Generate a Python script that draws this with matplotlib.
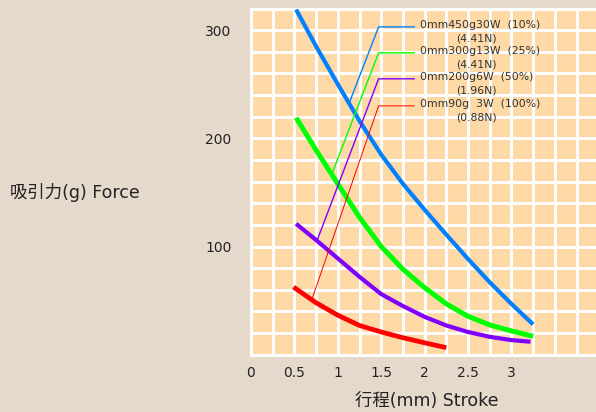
import matplotlib
matplotlib.use("Agg")
import matplotlib.pyplot as plt
import numpy as np

plt.rcParams['font.family'] = ['DejaVu Sans', 'Noto Sans CJK JP']

# ---- data ----
blue_x = [0.52, 0.75, 1.0, 1.25, 1.5, 1.75, 2.0, 2.25, 2.5, 2.75, 3.0, 3.25]
blue_y = [319, 285, 250, 216, 185, 158, 134, 111, 88.5, 67, 47, 28]
green_x = [0.52, 0.75, 1.0, 1.25, 1.5, 1.75, 2.0, 2.25, 2.5, 2.75, 3.0, 3.25]
green_y = [219, 189, 158, 127, 100, 79, 62, 47, 35.5, 27.5, 22, 17]
purple_x = [0.52, 0.75, 1.0, 1.25, 1.5, 1.75, 2.0, 2.25, 2.5, 2.75, 3.0, 3.22]
purple_y = [121, 106, 89, 72, 56, 45, 35, 27, 21, 16.5, 13.5, 12]
red_x = [0.49, 0.75, 1.0, 1.25, 1.5, 1.75, 2.0, 2.25]
red_y = [62.5, 48, 36.5, 27, 21, 15.7, 11, 6.5]

labels1 = ["0mm450g30W  (10%)", "0mm300g13W  (25%)", "0mm200g6W  (50%)", "0mm90g  3W  (100%)"]
labels2 = ["(4.41N)", "(4.41N)", "(1.96N)", "(0.88N)"]
leader_start_x = [1.13, 0.93, 0.76, 0.70]
x_ticks = [0, 0.5, 1, 1.5, 2, 2.5, 3]
x_ticklabels = ["0", "0.5", "1", "1.5", "2", "2.5", "3"]
y_ticks = [100, 200, 300]
y_ticklabels = ["100", "200", "300"]

colors = ["#0080FF", "#00FF00", "#8000FF", "#FF0000"]
series = [(blue_x, blue_y), (green_x, green_y), (purple_x, purple_y), (red_x, red_y)]

W, H = 596, 412
fig = plt.figure(figsize=(W / 100, H / 100), dpi=100)
fig.patch.set_facecolor("#E5D9CC")

ax_left, ax_bottom_px, ax_top_px = 251, 354.7, 8.5
ax = fig.add_axes([ax_left / W, (H - ax_bottom_px) / H, (W - ax_left) / W, (ax_bottom_px - ax_top_px) / H])
ax.set_facecolor("#FFD9A6")
ax.set_xlim(0, (W - ax_left) / 86.8)
ax.set_ylim(0, 320)

ax.set_xticks(np.arange(0, 4.0, 0.25), minor=True)
ax.set_yticks(np.arange(0, 321, 20), minor=True)
ax.set_xticks(x_ticks)
ax.set_xticklabels(x_ticklabels)
ax.set_yticks(y_ticks)
ax.set_yticklabels(y_ticklabels)
ax.grid(which="both", color="white", lw=2.2)
ax.set_axisbelow(True)
ax.tick_params(which="both", length=0)
ax.tick_params(axis="y", pad=14, labelsize=10, colors="#222222")
ax.tick_params(axis="x", pad=8, labelsize=10, colors="#222222")
for s in ["left", "top", "bottom"]:
    ax.spines[s].set_color("white")
    ax.spines[s].set_linewidth(2.2)
ax.spines["right"].set_visible(False)

lws = [3.0, 3.6, 3.0, 3.4]
for (xs, ys), c, lw in zip(series, colors, lws):
    ax.plot(xs, ys, color=c, lw=lw, solid_capstyle="butt", solid_joinstyle="round", zorder=3)

# leader lines + labels
elbow_x = 1.47
end_x = 1.88
label_y = [303, 279, 255, 230]
leader_lw = [1.0, 1.0, 1.0, 0.7]
for i, ((xs, ys), c) in enumerate(zip(series, colors)):
    sx = leader_start_x[i]
    sy = np.interp(sx, xs, ys)
    ax.plot([sx, elbow_x, end_x], [sy, label_y[i], label_y[i]], color=c, lw=leader_lw[i], zorder=4)
    ax.text(1.95, label_y[i] + 1.5, labels1[i], fontsize=7.8, color="#333333", va="center", ha="left", zorder=5)
    ax.text(2.36, label_y[i] - 10.5, labels2[i], fontsize=7.8, color="#333333", va="center", ha="left", zorder=5)

fig.text(10 / W, 1 - 192.5 / H, "吸引力(g) Force", fontsize=12.5, color="#222222", va="center", ha="left")
fig.text(427 / W, 1 - 401.5 / H, "行程(mm) Stroke", fontsize=12.5, color="#222222", va="center", ha="center")

fig.savefig("out.png", dpi=100, facecolor=fig.get_facecolor())
